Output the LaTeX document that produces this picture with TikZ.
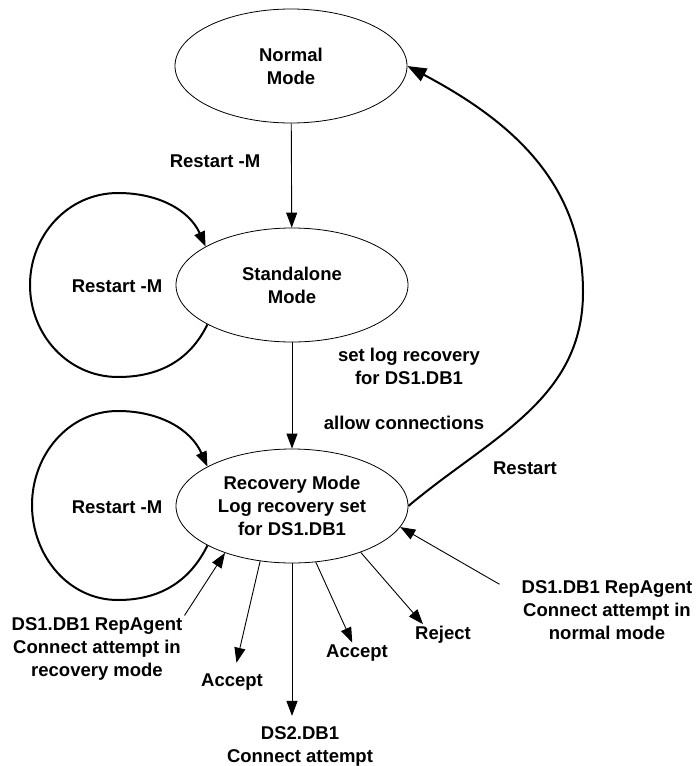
\documentclass[tikz,border=0pt]{standalone}
\usepackage{fontspec}
\setmainfont{Liberation Sans}
\usetikzlibrary{arrows.meta, shapes.geometric}

\begin{document}
\begin{tikzpicture}[x=1pt, y=1pt,
  modebox/.style = {draw, ellipse, line width=0.8pt, minimum width=232pt, minimum height=114pt,
    inner sep=0pt, align=center, font=\bfseries\fontsize{18.5}{23}\selectfont},
  lbl/.style = {align=center, inner sep=2pt, font=\bfseries\fontsize{18.5}{23}\selectfont},
  arr/.style = {line width=0.9pt, -{Triangle[length=15pt,width=11pt]}},
  selfarc/.style = {line width=2pt, -{Triangle[length=15pt,width=11pt]}},
  bigarr/.style = {line width=2pt, -{Triangle[length=19pt,width=14pt]}}]
\useasboundingbox (0,0) rectangle (696,-766);

% the three modes
\node at (291,-66)  (na) [modebox] {Normal\\Mode};
\node at (292,-285) (sa) [modebox] {Standalone\\Mode};
\node at (292,-506) (ra) [modebox] {Recovery Mode\\Log recovery set\\for DS1.DB1};

% labels
\node at (215,-161) (rm1) [lbl] {Restart -M};
\node at (117,-286) (rm2) [lbl] {Restart -M};
\node at (117,-507) (rm3) [lbl] {Restart -M};
\node at (409,-366) (slr) [lbl] {set log recovery\\for DS1.DB1};
\node at (404,-423) (alc) [lbl] {allow connections};
\node at (525,-468) (rst) [lbl] {Restart};
\node at (97,-649)  (lrec) [lbl] {DS1.DB1 RepAgent\\Connect attempt in\\recovery mode};
\node at (607,-610) (lnorm) [lbl] {DS1.DB1 RepAgent\\Connect attempt in\\normal mode};
\node at (232,-682) (acc1) [lbl] {Accept};
\node at (357,-653) (acc2) [lbl] {Accept};
\node at (443,-635) (rej) [lbl] {Reject};
\node at (300,-746) (ds2) [lbl] {DS2.DB1\\Connect attempt};

% transitions
\draw[arr] (na) -- (sa);
\draw[arr] (sa) -- (ra);
\draw[selfarc] (sa.205) to[out=-116,in=0] (118,-377) to[out=180,in=-90] (30,-285)
  to[out=90,in=180] (118,-193) to[out=0,in=114] (sa.156);
\draw[selfarc] (ra.205) to[out=-116,in=0] (118,-600) to[out=180,in=-90] (32,-505)
  to[out=90,in=180] (118,-411) to[out=0,in=114] (ra.155);
\draw[bigarr] (ra.east) to[out=40,in=-90] (583,-292) to[out=90,in=-28] (na.east);

% connect attempts
\draw[arr] (lrec.north east) -- (ra.215);
\draw[arr] ([shift={(-20,-6)}]lnorm.north west) -- (ra.349);
\draw[arr, shorten >=9pt] (ra.240) -- (acc1);
\draw[arr, shorten >=8pt] (ra.south) -- (ra.south |- ds2.north);
\draw[arr] (ra.293) -- (acc2);
\draw[arr] (ra.326) -- ([xshift=-20pt]rej.north);
\end{tikzpicture}
\end{document}
